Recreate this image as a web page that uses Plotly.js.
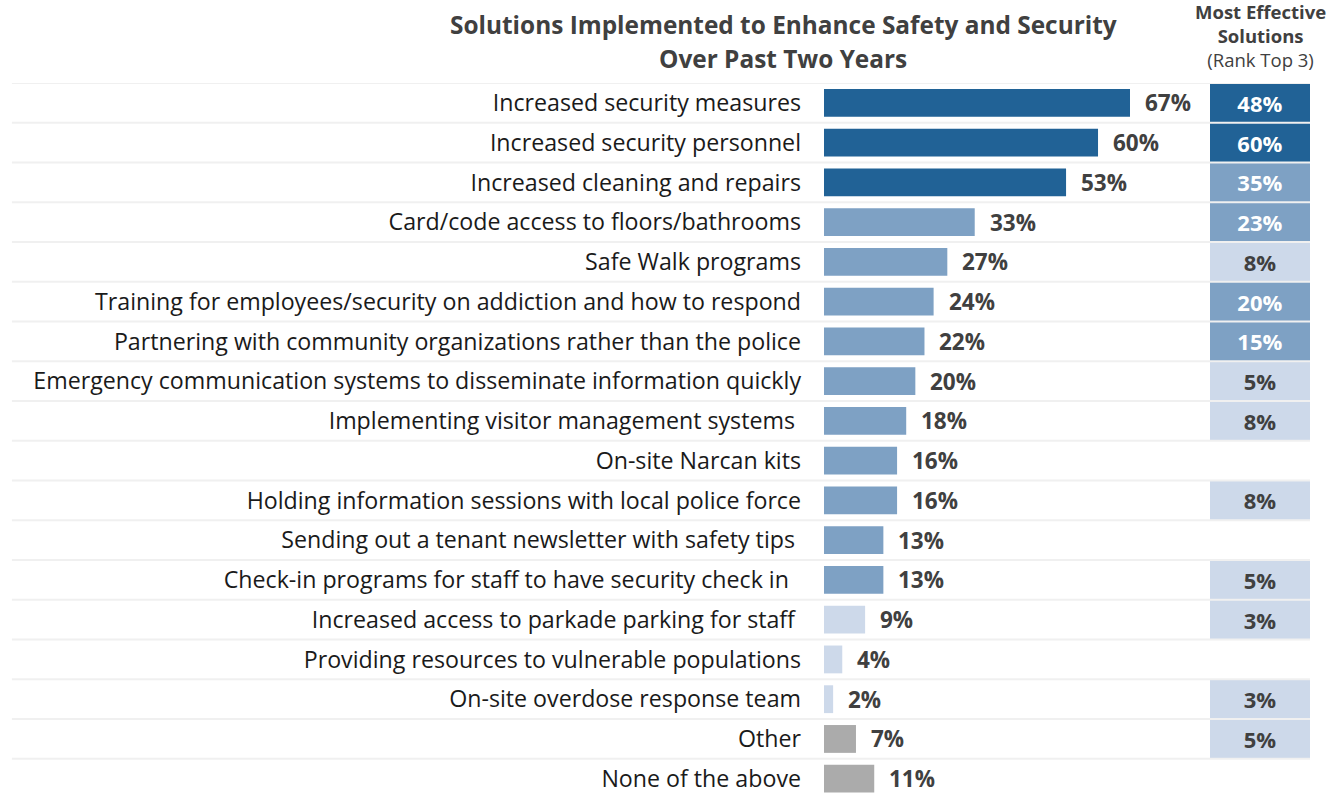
<!DOCTYPE html>
<html>
<head>
<meta charset="utf-8">
<script src="https://cdn.plot.ly/plotly-3.0.1.min.js"></script>
<style>
  html, body { margin: 0; padding: 0; background: #fff; }
  #chart { width: 1344px; height: 795px; }
</style>
</head>
<body>
<div id="chart"></div>
<script>
    'use strict';

    // Data
    var solutions = [
        'Increased security measures',
        'Increased security personnel',
        'Increased cleaning and repairs',
        'Card/code access to floors/bathrooms',
        'Safe Walk programs',
        'Training for employees/security on addiction and how to respond',
        'Partnering with community organizations rather than the police',
        'Emergency communication systems to disseminate information quickly',
        'Implementing visitor management systems\u00a0',
        'On-site Narcan kits',
        'Holding information sessions with local police force',
        'Sending out a tenant newsletter with safety tips\u00a0',
        'Check-in programs for staff to have security check in\u00a0\u00a0',
        'Increased access to parkade parking for staff\u00a0',
        'Providing resources to vulnerable populations',
        'On-site overdose response team',
        'Other',
        'None of the above'
    ];
    var implemented = [67, 60, 53, 33, 27, 24, 22, 20, 18, 16, 16, 13, 13, 9, 4, 2, 7, 11];
    var mostEffective = [48, 60, 35, 23, 8, 20, 15, 5, 8, null, 8, null, 5, 3, null, 3, 5, null];
    var otherRows = ['Other', 'None of the above'];

    var titleLines = ['Solutions Implemented to Enhance Safety and Security', 'Over Past Two Years'];
    var headerLines = ['<b>Most Effective</b>', '<b>Solutions</b>', '(Rank Top 3)'];

    // Colours
    var DARK = '#216296';
    var MEDIUM = '#7ea1c4';
    var LIGHT = '#cdd9ea';
    var GRAY = '#ababab';
    var TEXT = '#404040';
    var FONT = '"Open Sans", Lato, sans-serif';

    var barColors = implemented.map(function(v, i) {
        if (otherRows.indexOf(solutions[i]) >= 0) return GRAY;
        if (v >= 50) return DARK;
        if (v >= 10) return MEDIUM;
        return LIGHT;
    });

    var boxColors = mostEffective.map(function(v) {
        if (v === null) return 'rgba(0,0,0,0)';
        if (v >= 40) return DARK;
        if (v >= 10) return MEDIUM;
        return LIGHT;
    });
    var boxTextColors = boxColors.map(function(c) {
        return c === LIGHT ? TEXT : '#ffffff';
    });

    var mainTrace = {
        type: 'bar',
        orientation: 'h',
        y: solutions,
        x: implemented,
        width: 0.7,
        marker: { color: barColors },
        hoverinfo: 'skip',
        xaxis: 'x',
        yaxis: 'y'
    };

    var boxTrace = {
        type: 'bar',
        orientation: 'h',
        y: solutions,
        x: mostEffective.map(function(v) { return v === null ? null : 1; }),
        width: 1,
        marker: { color: boxColors },
        text: mostEffective.map(function(v) { return v === null ? '' : v + '%'; }),
        textposition: 'inside',
        insidetextanchor: 'middle',
        textfont: { family: FONT, size: 22, color: boxTextColors, weight: 'bold' },
        hoverinfo: 'skip',
        xaxis: 'x2',
        yaxis: 'y'
    };

    // value labels right of the bars
    var annotations = implemented.map(function(v, i) {
        return {
            xref: 'x', yref: 'y',
            x: v, y: solutions[i],
            text: '<b>' + v + '%</b>',
            showarrow: false,
            xanchor: 'left',
            yanchor: 'middle',
            xshift: 13,
            font: { family: FONT, size: 22.5, color: TEXT }
        };
    });

    // chart title, one annotation per line (y in px from top)
    var titleY = [24, 58];
    titleLines.forEach(function(t, i) {
        annotations.push({
            xref: 'paper', yref: 'paper',
            x: -0.084, y: (795 - titleY[i]) / 712,
            xanchor: 'center', yanchor: 'middle',
            text: '<b>' + t + '</b>',
            showarrow: false,
            font: { family: FONT, size: 24.4, color: TEXT }
        });
    });

    // right column header
    annotations.push({
        xref: 'paper', yref: 'paper',
        x: 0.899, y: (795 - 36) / 712,
        xanchor: 'center', yanchor: 'middle',
        text: headerLines.join('<br>'),
        align: 'center',
        showarrow: false,
        font: { family: FONT, size: 18.5, color: TEXT }
    });

    // row separators at category boundaries
    var shapes = [];
    for (var i = 0; i <= solutions.length; i++) {
        shapes.push({
            type: 'line',
            xref: 'paper', yref: 'y',
            x0: -1.671, x1: 1.0,
            y0: i - 0.5, y1: i - 0.5,
            line: { color: '#f0f0f0', width: 2 },
            layer: 'above'
        });
    }

    var layout = {
        width: 1344,
        height: 795,
        margin: { l: 824, r: 34, t: 83, b: 0 },
        paper_bgcolor: '#ffffff',
        plot_bgcolor: '#ffffff',
        showlegend: false,
        font: { family: FONT, color: '#1a1a1a' },
        xaxis: {
            domain: [0, 0.78],
            range: [0, 83],
            visible: false,
            fixedrange: true
        },
        xaxis2: {
            domain: [0.794, 1],
            range: [0, 1],
            visible: false,
            fixedrange: true
        },
        yaxis: {
            type: 'category',
            range: [17.41, -0.5],
            showgrid: false,
            zeroline: false,
            showline: false,
            ticks: '',
            ticklabelstandoff: 22,
            tickfont: { family: FONT, size: 23.2, color: '#1a1a1a' },
            fixedrange: true
        },
        annotations: annotations,
        shapes: shapes
    };

    Plotly.newPlot('chart', [mainTrace, boxTrace], layout, { displayModeBar: false, staticPlot: true });
</script>
</body>
</html>
